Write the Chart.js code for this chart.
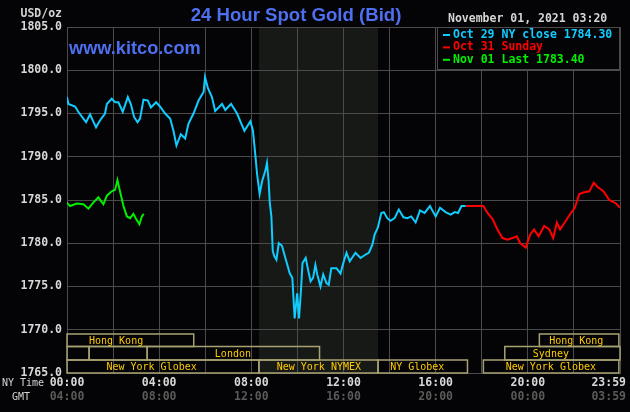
<!DOCTYPE html>
<html>
<head>
<meta charset="utf-8">
<script src="https://cdn.jsdelivr.net/npm/chart.js@4.4.0/dist/chart.umd.min.js"></script>
<style>
  html, body { margin: 0; padding: 0; background: #040406; }
  #wrap { width: 630px; height: 412px; position: relative; }
</style>
</head>
<body>
<div id="wrap"><canvas id="goldChart"></canvas></div>
<script>
// Oct 29 NY session (cyan), hours since 00:00 NY time
const oct29Hours = [0, 0.06, 0.35, 0.49, 0.71, 0.83, 1.0, 1.12, 1.26, 1.43, 1.65, 1.73, 1.94, 2.09, 2.23, 2.42, 2.64, 2.77, 2.91, 3.06,
  3.17, 3.32, 3.51, 3.64, 3.87, 4.04, 4.26, 4.48, 4.62, 4.75, 4.94, 5.13, 5.27, 5.49, 5.71, 5.93, 5.99, 6.12, 6.29, 6.43,
  6.73, 6.87, 7.12, 7.38, 7.70, 7.96, 8.07, 8.17, 8.25, 8.36, 8.47, 8.61, 8.68, 8.75, 8.80, 8.87, 8.93, 9.0, 9.09, 9.19,
  9.33, 9.52, 9.67, 9.78, 9.88, 9.99, 10.07, 10.16, 10.22, 10.36, 10.45, 10.57, 10.68, 10.78, 10.86, 11.0, 11.12, 11.26, 11.36, 11.47,
  11.70, 11.87, 11.99, 12.13, 12.27, 12.52, 12.74, 12.96, 13.1, 13.25, 13.35, 13.49, 13.64, 13.75, 13.9, 14.04, 14.22, 14.4, 14.6, 14.77,
  14.94, 15.13, 15.32, 15.52, 15.75, 16.0, 16.19, 16.43, 16.65, 16.83, 16.97, 17.12, 17.30];
const oct29Prices = [1796.9, 1796.1, 1795.8, 1795.2, 1794.4, 1794.0, 1794.9, 1794.2, 1793.4, 1794.2, 1795.0, 1796.1, 1796.7, 1796.3, 1796.3, 1795.2, 1796.9, 1796.1, 1794.6, 1794.0,
  1794.4, 1796.6, 1796.5, 1795.7, 1796.3, 1795.8, 1795.0, 1794.4, 1793.0, 1791.3, 1792.6, 1792.1, 1793.8, 1795.0, 1796.5, 1797.5, 1799.2, 1797.9, 1796.9, 1795.3,
  1796.1, 1795.4, 1796.1, 1795.0, 1793.0, 1794.1, 1793.0, 1790.3, 1788.0, 1785.7, 1787.2, 1788.4, 1789.3, 1787.2, 1784.7, 1783.1, 1779.1, 1778.5, 1778.1, 1780.0,
  1779.7, 1777.9, 1776.5, 1776.0, 1771.3, 1774.2, 1771.3, 1774.8, 1777.7, 1778.3, 1777.1, 1775.6, 1776.0, 1777.5, 1776.4, 1775.0, 1776.4, 1775.4, 1775.2, 1777.1,
  1777.1, 1776.5, 1777.7, 1778.9, 1777.9, 1778.9, 1778.3, 1778.7, 1778.9, 1779.8, 1781.0, 1781.8, 1783.5, 1783.6, 1782.9, 1782.6, 1782.9, 1783.9, 1783.0, 1782.9,
  1783.1, 1782.4, 1783.8, 1783.5, 1784.3, 1783.1, 1784.1, 1783.6, 1783.3, 1783.6, 1783.5, 1784.3, 1784.3];

// Oct 31 Sunday (red)
const oct31Hours = [17.30, 18.07, 18.25, 18.47, 18.68, 18.9, 19.12, 19.33, 19.52, 19.67, 19.91, 20.1, 20.27, 20.47, 20.71, 20.93, 21.1, 21.26, 21.4, 21.65,
  21.87, 22.04, 22.23, 22.45, 22.67, 22.86, 23.03, 23.29, 23.53, 23.83, 24.0];
const oct31Prices = [1784.3, 1784.3, 1783.5, 1782.8, 1781.6, 1780.6, 1780.4, 1780.6, 1780.8, 1780.0, 1779.5, 1781.0, 1781.6, 1780.8, 1782.0, 1781.6, 1780.6, 1782.4, 1781.6, 1782.6,
  1783.5, 1784.1, 1785.7, 1785.9, 1786.0, 1787.0, 1786.5, 1786.0, 1785.0, 1784.6, 1784.1];

// Nov 01 so far (green)
const nov01Hours = [0, 0.13, 0.42, 0.71, 0.93, 1.14, 1.36, 1.58, 1.73, 1.94, 2.09, 2.19, 2.3, 2.45, 2.6, 2.74, 2.88, 3.0, 3.14, 3.25, 3.33];
const nov01Prices = [1784.7, 1784.3, 1784.6, 1784.5, 1784.0, 1784.7, 1785.3, 1784.5, 1785.5, 1786.0, 1786.2, 1787.3, 1786.0, 1784.3, 1783.1, 1782.9, 1783.4, 1782.8, 1782.2, 1783.1, 1783.4];

// x tick labels
const tickHours = [0, 4, 8, 12, 16, 20, 24];
const nyTimeLabels = ['00:00', '04:00', '08:00', '12:00', '16:00', '20:00', '23:59'];
const gmtLabels = ['04:00', '08:00', '12:00', '16:00', '20:00', '00:00', '03:59'];

// market sessions (row 0 = top)
const sessionNames = ['Hong Kong', 'Hong Kong', '', '', 'London', 'Sydney', 'New York Globex', 'New York NYMEX', 'NY Globex', 'New York Globex'];
const sessionStart = [0, 20.5, 0, 0.96, 3.48, 19.0, 0, 8.33, 13.5, 18.07];
const sessionEnd = [5.5, 23.95, 0.96, 3.48, 10.96, 24, 8.33, 13.5, 17.38, 23.95];
const sessionRow = [0, 0, 1, 1, 1, 1, 2, 2, 2, 2];
const sessionLabelAt = [2.13, 22.1, 0, 0, 7.2, 21.0, 3.67, 10.93, 15.2, 21.0];

// NYMEX shaded hours
const shadeStart = 8.33;
const shadeEnd = 13.5;

const legendLabels = ['Oct 29 NY close 1784.30', 'Oct 31 Sunday', 'Nov 01 Last 1783.40'];
const lineColors = ['#10ccff', '#ff0000', '#00f000'];

const gridColor = '#4b4b4b';
const mono = '"DejaVu Sans Mono", monospace';

function toPoints(xs, ys) {
    return xs.map((h, i) => ({ x: h, y: ys[i] }));
}

const kitcoPlugin = {
    id: 'kitco',
    beforeDraw(chart) {
        const c = chart.ctx;
        const a = chart.chartArea;
        const xs = chart.scales.x;
        c.save();
        c.fillStyle = '#040406';
        c.fillRect(0, 0, chart.width, chart.height);
        // NYMEX hours shading
        const x1 = xs.getPixelForValue(shadeStart);
        const x2 = xs.getPixelForValue(shadeEnd);
        c.fillStyle = '#161916';
        c.fillRect(x1, a.top, x2 - x1, a.bottom - a.top);
        c.restore();
    },
    afterDatasetsDraw(chart) {
        const c = chart.ctx;
        const a = chart.chartArea;
        const xs = chart.scales.x;
        c.save();

        // session boxes
        const rowTop = [a.bottom - 39, a.bottom - 26.5, a.bottom - 13];
        const rowH = [12.5, 13.5, 13];
        c.strokeStyle = '#a8a272';
        c.lineWidth = 1.5;
        c.font = '10px ' + mono;
        c.textAlign = 'center';
        c.textBaseline = 'middle';
        for (let i = 0; i < sessionNames.length; i++) {
            const x1 = xs.getPixelForValue(sessionStart[i]);
            const x2 = xs.getPixelForValue(sessionEnd[i]);
            const r = sessionRow[i];
            c.strokeRect(x1, rowTop[r], x2 - x1, rowH[r]);
        }
        c.fillStyle = '#ffcc00';
        for (let i = 0; i < sessionNames.length; i++) {
            if (!sessionNames[i]) continue;
            const r = sessionRow[i];
            c.fillText(sessionNames[i], xs.getPixelForValue(sessionLabelAt[i]), rowTop[r] + rowH[r] / 2 + 1);
        }

        // legend box
        const lx = 437, ly = a.top, lw = a.right - 437, lh = 42;
        c.fillStyle = '#040406';
        c.fillRect(lx, ly, lw, lh);
        c.strokeStyle = gridColor;
        c.lineWidth = 1;
        c.strokeRect(lx + 0.5, ly + 0.5, lw - 1, lh);
        c.font = 'bold 11.5px ' + mono;
        c.textAlign = 'left';
        c.textBaseline = 'alphabetic';
        legendLabels.forEach((t, i) => {
            const by = ly + 11 + i * 12.4;
            c.fillStyle = lineColors[i];
            c.fillRect(443, by - 4, 7, 2);
            c.fillText(t, 453, by);
        });
        c.restore();
    },
    afterDraw(chart) {
        const c = chart.ctx;
        const xs = chart.scales.x;
        c.save();

        // title + site
        c.fillStyle = '#4e70f0';
        c.font = 'bold 18.6px "Liberation Sans", Arial, sans-serif';
        c.textAlign = 'center';
        c.fillText('24 Hour Spot Gold (Bid)', 296, 21);
        c.font = 'bold 18.2px "Liberation Sans", Arial, sans-serif';
        c.textAlign = 'left';
        c.fillText('www.kitco.com', 69, 54);

        c.fillStyle = '#d4d4d4';
        c.font = 'bold 11.5px ' + mono;
        c.textAlign = 'right';
        c.fillText('USD/oz', 62, 16.5);
        c.textAlign = 'left';
        c.fillText('November 01, 2021 03:20', 448, 22);

        // time axis labels
        c.font = '10px ' + mono;
        c.fillStyle = '#d4d4d4';
        c.fillText('NY Time', 2, 386);
        c.fillText('GMT', 12, 400);
        c.font = 'bold 11.5px ' + mono;
        c.textAlign = 'center';
        tickHours.forEach((h, i) => {
            let px = xs.getPixelForValue(h);
            const w = c.measureText(nyTimeLabels[i]).width;
            if (px + w / 2 > chart.width - 4) px = chart.width - 4 - w / 2;
            c.fillStyle = '#d8d8d8';
            c.fillText(nyTimeLabels[i], px, 386);
            c.fillStyle = '#5a5a5a';
            c.fillText(gmtLabels[i], px, 400);
        });
        c.restore();
    }
};

const ctx = document.getElementById('goldChart').getContext('2d');
const goldChart = new Chart(ctx, {
    type: 'line',
    data: {
        datasets: [{
            label: legendLabels[0],
            data: toPoints(oct29Hours, oct29Prices),
            borderColor: lineColors[0],
            borderWidth: 2,
            pointRadius: 0,
            tension: 0
        }, {
            label: legendLabels[1],
            data: toPoints(oct31Hours, oct31Prices),
            borderColor: lineColors[1],
            borderWidth: 2,
            pointRadius: 0,
            tension: 0
        }, {
            label: legendLabels[2],
            data: toPoints(nov01Hours, nov01Prices),
            borderColor: lineColors[2],
            borderWidth: 2,
            pointRadius: 0,
            tension: 0
        }]
    },
    options: {
        responsive: true,
        maintainAspectRatio: false,
        animation: false,
        layout: { padding: { top: 27, right: 10, left: 0, bottom: 0 } },
        plugins: {
            legend: { display: false },
            tooltip: { enabled: false }
        },
        scales: {
            x: {
                type: 'linear',
                min: 0,
                max: 24,
                ticks: { display: false, stepSize: 2 },
                grid: { color: gridColor, drawTicks: false },
                border: { color: gridColor },
                afterFit(scale) { scale.height = 39; }
            },
            y: {
                min: 1765,
                max: 1805,
                ticks: {
                    stepSize: 5,
                    padding: 5,
                    color: '#d8d8d8',
                    font: { family: 'DejaVu Sans Mono', size: 11.5, weight: 'bold' },
                    callback: v => v.toFixed(1)
                },
                grid: { color: gridColor, drawTicks: false },
                border: { color: gridColor },
                afterFit(scale) { scale.width = 67; }
            }
        }
    },
    plugins: [kitcoPlugin]
});
</script>
</body>
</html>
